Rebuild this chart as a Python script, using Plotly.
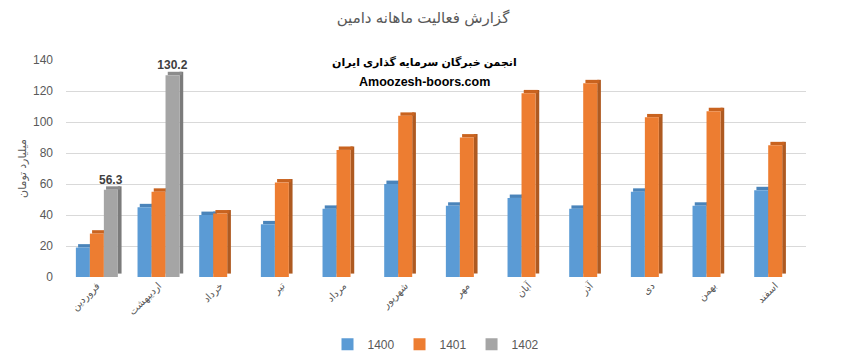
import plotly.graph_objects as go

months = ['فروردین', 'اردیبهشت', 'خرداد', 'تیر', 'مرداد', 'شهریور',
          'مهر', 'آبان', 'آذر', 'دی', 'بهمن', 'اسفند']
v1400 = [19, 45, 40, 34, 44, 60, 46, 51, 44, 55, 46, 56]
v1401 = [28, 55, 41, 61, 82, 104, 90, 118.5, 125, 103, 107, 85]
v1402 = [56.3, 130.2, None, None, None, None, None, None, None, None, None, None]
series_names = ['1400', '1401', '1402']
y_ticks = [0, 20, 40, 60, 80, 100, 120, 140]

FONT = "Arial, 'DejaVu Sans', sans-serif"
face_colors = ['#5B9BD5', '#ED7D31', '#A5A5A5']
side_colors = ['#3F72A0', '#AE5A21', '#7B7B7B']
cap_colors = ['#4A84BA', '#C9631F', '#8C8C8C']
offsets = [-0.34, -0.113, 0.114]
W = 0.227      # bar face width (category units)
SW = 0.06      # side face width
LIFT = 2.2     # depth lift (value units)

fig = go.Figure()
all_vals = [v1400, v1401, v1402]
for i, vals in enumerate(all_vals):
    o = offsets[i]
    # side face
    fig.add_trace(go.Bar(
        x=months, y=vals, base=[LIFT] * len(vals), offset=o + W, width=SW,
        marker=dict(color=side_colors[i], line=dict(width=0)),
        showlegend=False, hoverinfo='skip'))
    # top cap
    fig.add_trace(go.Bar(
        x=months, y=[LIFT if v is not None else None for v in vals],
        base=[v if v is not None else 0 for v in vals],
        offset=o + SW * 0.6, width=W,
        marker=dict(color=cap_colors[i], line=dict(width=0)),
        showlegend=False, hoverinfo='skip'))
    # front face
    fig.add_trace(go.Bar(
        x=months, y=vals, offset=o, width=W, name=series_names[i],
        marker=dict(color=face_colors[i], line=dict(width=0)),
        text=[f'<b>{v}</b>' if (v is not None and i == 2) else '' for v in vals],
        textposition='outside', constraintext='none',
        textfont=dict(size=12, color='#404040', family=FONT),
        cliponaxis=False))

fig.update_layout(
    width=846, height=364,
    barmode='overlay',
    paper_bgcolor='white', plot_bgcolor='white',
    margin=dict(l=66, r=40, t=60, b=87, autoexpand=False),
    font=dict(family=FONT, color='#595959'),
    title=dict(text='گزارش فعالیت ماهانه دامین', x=0.5, xanchor='center',
               y=0.95, yanchor='middle',
               font=dict(size=15, color='#595959', family=FONT)),
    xaxis=dict(range=[-0.5, 11.5], tickangle=-45, showgrid=False, zeroline=False,
               showline=False, ticks='', automargin=False,
               tickfont=dict(size=10, color='#595959')),
    yaxis=dict(range=[0, 140], tickvals=y_ticks, showgrid=True, gridcolor='#D9D9D9',
               zeroline=False, showline=False, ticks='', ticklabelstandoff=12,
               automargin=False,
               tickfont=dict(size=12, color='#595959'),
               title=dict(text='میلیارد تومان', font=dict(size=11, color='#595959'),
                          standoff=4)),
    legend=dict(orientation='h', x=0.5, xanchor='center', y=-0.31, yanchor='middle',
                font=dict(size=12, color='#595959'), itemwidth=30,
                traceorder='normal'),
    showlegend=True,
)
fig.add_annotation(text='<b>انجمن خبرگان سرمایه گذاری ایران</b>', xref='paper', yref='paper',
                   x=0.485, y=0.99, showarrow=False, yanchor='middle',
                   font=dict(size=11, color='black', family=FONT))
fig.add_annotation(text='<b>Amoozesh-boors.com</b>', xref='paper', yref='paper',
                   x=0.485, y=0.90, showarrow=False, yanchor='middle',
                   font=dict(size=12.5, color='black', family=FONT))

fig.write_html("out.html", config={'displayModeBar': False},
               post_script="document.body.style.margin='0';document.body.style.overflow='hidden';")
